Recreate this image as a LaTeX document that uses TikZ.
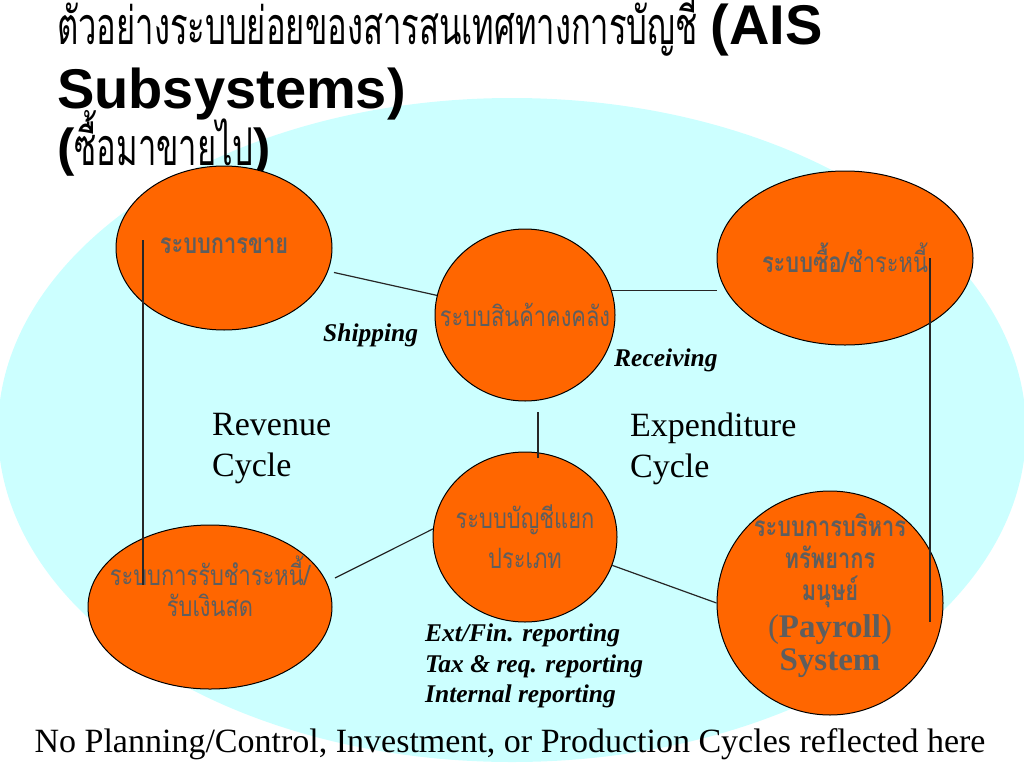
\documentclass[tikz,border=0pt]{standalone}
\usepackage{fontspec}
\setmainfont{Liberation Serif}
\newfontfamily\headfont{Liberation Sans}
\newfontfamily\thaihead[Script=Thai,FakeStretch=0.63]{Loma}
\newfontfamily\thaifont[Script=Thai,FakeStretch=0.78]{Loma}
\usetikzlibrary{shapes.geometric,calc}
\definecolor{BackClr}{rgb}{0.8,1,1}
\definecolor{ShapeClr}{rgb}{1,0.4,0}
\definecolor{TextClr}{rgb}{0.37,0.37,0.37}

\begin{document}
\begin{tikzpicture}[x=1pt,y=-1pt,
  sysnode/.style={ellipse,draw=black,line width=1pt,fill=ShapeClr,inner sep=0pt},
  systext/.style={text=TextClr,align=center,inner sep=0pt,font=\thaifont\fontsize{28}{31}\selectfont},
  link/.style={line width=1.2pt,color=black!85},
  flowlbl/.style={anchor=base west,inner sep=0pt,font=\bfseries\itshape\fontsize{25.5}{30.5}\selectfont},
  cyclelbl/.style={anchor=north west,inner sep=0pt,align=left,font=\fontsize{34}{41}\selectfont}]
\useasboundingbox (0,0) rectangle (1024,768);

\fill[BackClr] (512,430) ellipse [x radius=514pt,y radius=332pt];

\node[anchor=base west,inner sep=0pt,font=\fontsize{52}{56}\selectfont] (title1) at (57,45)
  {{\thaihead ตัวอย่างระบบย่อยของสารสนเทศทางการบัญชี} {\headfont\bfseries\fontsize{56}{60}\selectfont(AIS}};
\node[anchor=base west,inner sep=0pt,font=\headfont\bfseries\fontsize{56}{60}\selectfont] (title2) at (57,108) {Subsystems)};
\node[anchor=base west,inner sep=0pt,font=\fontsize{52}{56}\selectfont] (title3) at (57,165)
  {{\headfont\bfseries(}{\thaihead ซื้อมาขายไป}{\headfont\bfseries)}};

\node[sysnode,minimum width=216pt,minimum height=164pt,
  label={[systext,yshift=2pt]center:{\bfseries ระบบการขาย}}] (sales) at (224,248) {};
\node[sysnode,minimum width=180pt,minimum height=172pt,
  label={[systext]center:{ระบบสินค้าคงคลัง}}] (inv) at (525,315) {};
\node[sysnode,minimum width=256pt,minimum height=174pt,
  label={[systext]center:{\bfseries ระบบซื้อ/\mdseries ชำระหนี้}}] (pur) at (845,258) {};
\node[sysnode,minimum width=244pt,minimum height=164pt,
  label={[systext,yshift=21pt]center:{ระบบการรับชำระหนี้/\\รับเงินสด}}] (cash) at (210,607) {};
\node[sysnode,minimum width=184pt,minimum height=170pt,
  label={[systext,font=\thaifont\fontsize{28}{40}\selectfont]center:{ระบบบัญชีแยก\\ประเภท}}] (gl) at (525,537) {};
\node[sysnode,minimum width=226pt,minimum height=224pt,
  label={[systext,yshift=7pt,font=\thaifont\bfseries\fontsize{28}{32}\selectfont]center:{ระบบการบริหาร\\ทรัพยากร\\มนุษย์\\[5pt]
  {\rmfamily\mdseries\fontsize{33}{34}\selectfont(}{\rmfamily\fontsize{33}{34}\selectfont Payroll}{\rmfamily\mdseries\fontsize{33}{34}\selectfont)}\\[1pt]
  {\rmfamily\fontsize{33}{33}\selectfont System}}}] (hr) at (830,603) {};

\draw[link,shorten <=6pt] (sales) -- (inv);
\draw[link] (inv.16) -- (inv.16 -| pur.west);
\draw[link] ($(sales)+(-81,-8)$) -- ($(cash)+(-67,-22)$);
\draw[link] ($(pur)+(85,0)$) -- ($(hr)+(100,19)$);
\draw[link] ($(inv)+(13,97)$) -- ($(gl)+(13,-79)$);
\draw[link] ($(cash)+(125,-29)$) -- (gl.175);
\draw[link] (gl.-18) -- (hr.west);

\node[flowlbl] (ship) at (323,341) {Shipping};
\node[flowlbl] (recv) at (614,366) {Receiving};
\node[flowlbl,anchor=north west,align=left] (report) at (425,624)
  {Ext/Fin. reporting\\Tax \& req. reporting\\Internal reporting};

\node[cyclelbl] (rev) at (212,413) {Revenue\\Cycle};
\node[cyclelbl] (exp) at (630,413) {Expenditure\\Cycle};

\node[anchor=base,inner sep=0pt,font=\fontsize{34}{36}\selectfont] (note) at (510,752)
  {No Planning/Control, Investment, or Production Cycles reflected here};

\end{tikzpicture}
\end{document}
